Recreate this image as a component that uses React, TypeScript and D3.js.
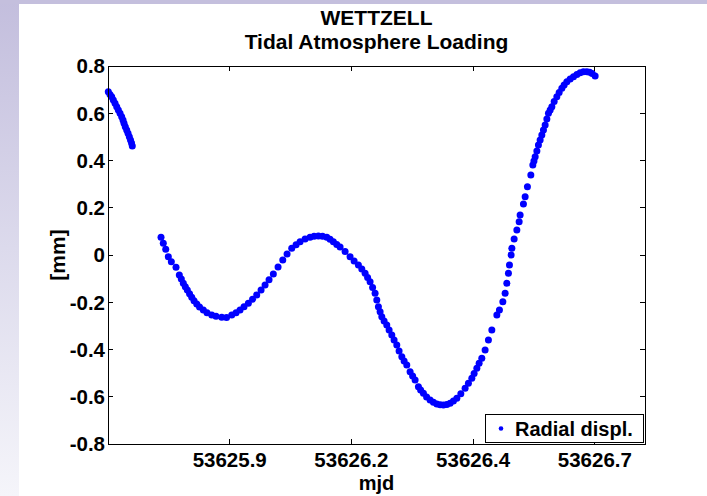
import * as d3 from 'd3';

// WETTZELL tidal atmosphere loading, radial displacement (mm) vs mjd
const mjd = [
  53625.6506, 53625.6541, 53625.6576, 53625.6609, 53625.6644, 53625.6679, 53625.6712, 53625.6747,
  53625.6781, 53625.6808, 53625.6829, 53625.6855, 53625.6884, 53625.6911, 53625.6938, 53625.6962,
  53625.6983, 53625.6999,
  53625.7589, 53625.7636, 53625.7686, 53625.7739, 53625.7801, 53625.7897, 53625.7965, 53625.8006,
  53625.8047, 53625.8088, 53625.8129, 53625.8175, 53625.822, 53625.8267, 53625.8323, 53625.838,
  53625.8458, 53625.8534, 53625.8631, 53625.8719, 53625.8836, 53625.8935, 53625.9042, 53625.913,
  53625.9212, 53625.9294, 53625.9383, 53625.9469, 53625.9555, 53625.9644, 53625.9726, 53625.9808,
  53625.9896, 53625.9993, 53626.009, 53626.0178, 53626.0274, 53626.0363, 53626.0445, 53626.0548,
  53626.065, 53626.0733, 53626.0821, 53626.0907, 53626.0994, 53626.1061, 53626.1129, 53626.1199,
  53626.1267, 53626.137, 53626.1472, 53626.1555, 53626.1643, 53626.1713, 53626.1781, 53626.1832,
  53626.1883, 53626.1935, 53626.1986, 53626.2021, 53626.2054, 53626.2089, 53626.2124, 53626.2171,
  53626.2226, 53626.2274, 53626.2329, 53626.2376, 53626.2432, 53626.2479, 53626.2535, 53626.2582,
  53626.2637, 53626.2705, 53626.2757, 53626.2808, 53626.2876, 53626.2921, 53626.2979, 53626.3044,
  53626.3116, 53626.3184, 53626.3254, 53626.3322, 53626.3389, 53626.3459, 53626.3527, 53626.3595,
  53626.3665, 53626.3747, 53626.3835, 53626.3903, 53626.3973, 53626.402, 53626.4076, 53626.4123,
  53626.4178, 53626.4246, 53626.4314, 53626.4384, 53626.4487, 53626.454, 53626.461, 53626.4657,
  53626.4692, 53626.4725, 53626.4746, 53626.478, 53626.4795, 53626.4842, 53626.4898, 53626.4945,
  53626.4965, 53626.5033, 53626.5068, 53626.5115, 53626.5185, 53626.5226, 53626.5249, 53626.5274,
  53626.5309, 53626.5341, 53626.5376, 53626.5411, 53626.5444, 53626.5479, 53626.5514, 53626.5547,
  53626.5582, 53626.5617, 53626.5664, 53626.5719, 53626.5767, 53626.5822, 53626.5869, 53626.5925,
  53626.5993, 53626.6061, 53626.6131, 53626.6198, 53626.6266, 53626.6336, 53626.6393, 53626.6445,
  53626.6506,
];

const radial = [
  0.6912, 0.6794, 0.6701, 0.6561, 0.6421, 0.6277, 0.6138, 0.5998,
  0.5854, 0.5714, 0.5575, 0.5431, 0.5291, 0.5151, 0.5007, 0.4868,
  0.4741, 0.4614,
  0.0749, 0.0495, 0.0241, -0.0072, -0.0284, -0.0521, -0.0847, -0.1016,
  -0.1198, -0.1342, -0.1481, -0.1638, -0.179, -0.1934, -0.2074, -0.2201,
  -0.2328, -0.2442, -0.254, -0.2595, -0.2637, -0.2645, -0.254, -0.2442,
  -0.2328, -0.2188, -0.2044, -0.1875, -0.1693, -0.1481, -0.127, -0.1045,
  -0.0804, -0.0508, -0.0212, 0.0042, 0.0284, 0.0436, 0.0563, 0.0677,
  0.0749, 0.0792, 0.0804, 0.0792, 0.0749, 0.0665, 0.0563, 0.0444,
  0.0339, 0.0148, -0.0072, -0.0254, -0.0423, -0.0593, -0.0775, -0.0952,
  -0.113, -0.1376, -0.1621, -0.1905, -0.2188, -0.24, -0.2612, -0.2794,
  -0.2963, -0.3175, -0.3386, -0.3598, -0.381, -0.4063, -0.4305, -0.4487,
  -0.4656, -0.494, -0.5122, -0.5291, -0.5575, -0.5714, -0.5854, -0.6011,
  -0.6138, -0.6235, -0.6307, -0.6341, -0.6349, -0.6328, -0.6277, -0.618,
  -0.6066, -0.5871, -0.5642, -0.5431, -0.5219, -0.5016, -0.4796, -0.4584,
  -0.4372, -0.4021, -0.3598, -0.3175, -0.254, -0.2328, -0.1977, -0.1621,
  -0.1198, -0.0775, -0.0423, 0.0, 0.0284, 0.0677, 0.1058, 0.141,
  0.1693, 0.2159, 0.2468, 0.2891, 0.3386, 0.381, 0.3979, 0.4161,
  0.4402, 0.4656, 0.4868, 0.5079, 0.5291, 0.5503, 0.5757, 0.5998,
  0.6138, 0.6277, 0.6497, 0.6701, 0.6878, 0.7056, 0.7196, 0.7335,
  0.745, 0.7547, 0.764, 0.7716, 0.7755, 0.7759, 0.7733, 0.7683,
  0.7577,
];

const xTicks = [53625.9, 53626.15, 53626.4, 53626.65];
const xTickLabels = ['53625.9', '53626.2', '53626.4', '53626.7'];
const yTicks = [-0.8, -0.6, -0.4, -0.2, 0, 0.2, 0.4, 0.6, 0.8];
const yTickLabels = ['-0.8', '-0.6', '-0.4', '-0.2', '0', '0.2', '0.4', '0.6', '0.8'];

const W = 707;
const H = 496;
const box = { left: 108, right: 645, top: 66, bottom: 444 };
const font = "'Liberation Sans', Arial, Helvetica, sans-serif";
const tickLen = 5;

export default function App() {
  const x = d3.scaleLinear().domain([53625.65, 53626.753]).range([box.left, box.right]);
  const y = d3.scaleLinear().domain([-0.8, 0.8]).range([box.bottom, box.top]);
  const points = mjd.map((t, i) => ({ t, v: radial[i] }));
  const cx = (box.left + box.right) / 2;
  const cy = (box.top + box.bottom) / 2;

  return (
    <svg
      width={W}
      height={H}
      style={{ position: 'absolute', left: 0, top: 0, display: 'block' }}
      fontFamily={font}
      fontWeight="bold"
    >
      <defs>
        <linearGradient id="side" x1="0" y1="0" x2="0" y2="1">
          <stop offset="0" stopColor="#c3bedd" />
          <stop offset="0.5" stopColor="#dcdaec" />
          <stop offset="1" stopColor="#f5f5fa" />
        </linearGradient>
      </defs>
      <rect x={0} y={0} width={W} height={H} fill="#fff" />
      <rect x={0} y={0} width={19} height={H} fill="url(#side)" />
      <rect x={0} y={0} width={W} height={4} fill="#c4bfdd" />

      {/* title */}
      <text x={cx} y={25} textAnchor="middle" fontSize={21}>WETTZELL</text>
      <text x={cx} y={49} textAnchor="middle" fontSize={21}>Tidal Atmosphere Loading</text>

      {/* data */}
      <g fill="#0000ff">
        {points.map((p, i) => (
          <circle key={i} cx={x(p.t)} cy={y(p.v)} r={3.5} />
        ))}
      </g>

      {/* axes box and ticks */}
      <g stroke="#000" strokeWidth={1} shapeRendering="crispEdges">
        <rect x={box.left} y={box.top} width={box.right - box.left} height={box.bottom - box.top} fill="none" />
        {xTicks.map((t) => (
          <g key={t}>
            <line x1={x(t)} x2={x(t)} y1={box.bottom} y2={box.bottom - tickLen} />
            <line x1={x(t)} x2={x(t)} y1={box.top} y2={box.top + tickLen} />
          </g>
        ))}
        {yTicks.map((v) => (
          <g key={v}>
            <line x1={box.left} x2={box.left + tickLen} y1={y(v)} y2={y(v)} />
            <line x1={box.right} x2={box.right - tickLen} y1={y(v)} y2={y(v)} />
          </g>
        ))}
      </g>

      {/* tick labels */}
      <g fontSize={20.5} fill="#000">
        {xTicks.map((t, i) => (
          <text key={t} x={x(t)} y={467} textAnchor="middle">{xTickLabels[i]}</text>
        ))}
        {yTicks.map((v, i) => (
          <text key={v} x={box.left - 3} y={y(v)} dy="0.36em" textAnchor="end">{yTickLabels[i]}</text>
        ))}
      </g>

      {/* axis labels */}
      <text x={cx} y={490} textAnchor="middle" fontSize={20}>mjd</text>
      <text transform={`translate(65,${cy}) rotate(-90)`} textAnchor="middle" fontSize={21}>[mm]</text>

      {/* legend */}
      <g>
        <rect x={485.5} y={414.5} width={158} height={28} fill="#fff" stroke="#000" strokeWidth={1} />
        <circle cx={501} cy={428.5} r={2.3} fill="#0000ff" />
        <text x={515} y={436} fontSize={20}>Radial displ.</text>
      </g>
    </svg>
  );
}
